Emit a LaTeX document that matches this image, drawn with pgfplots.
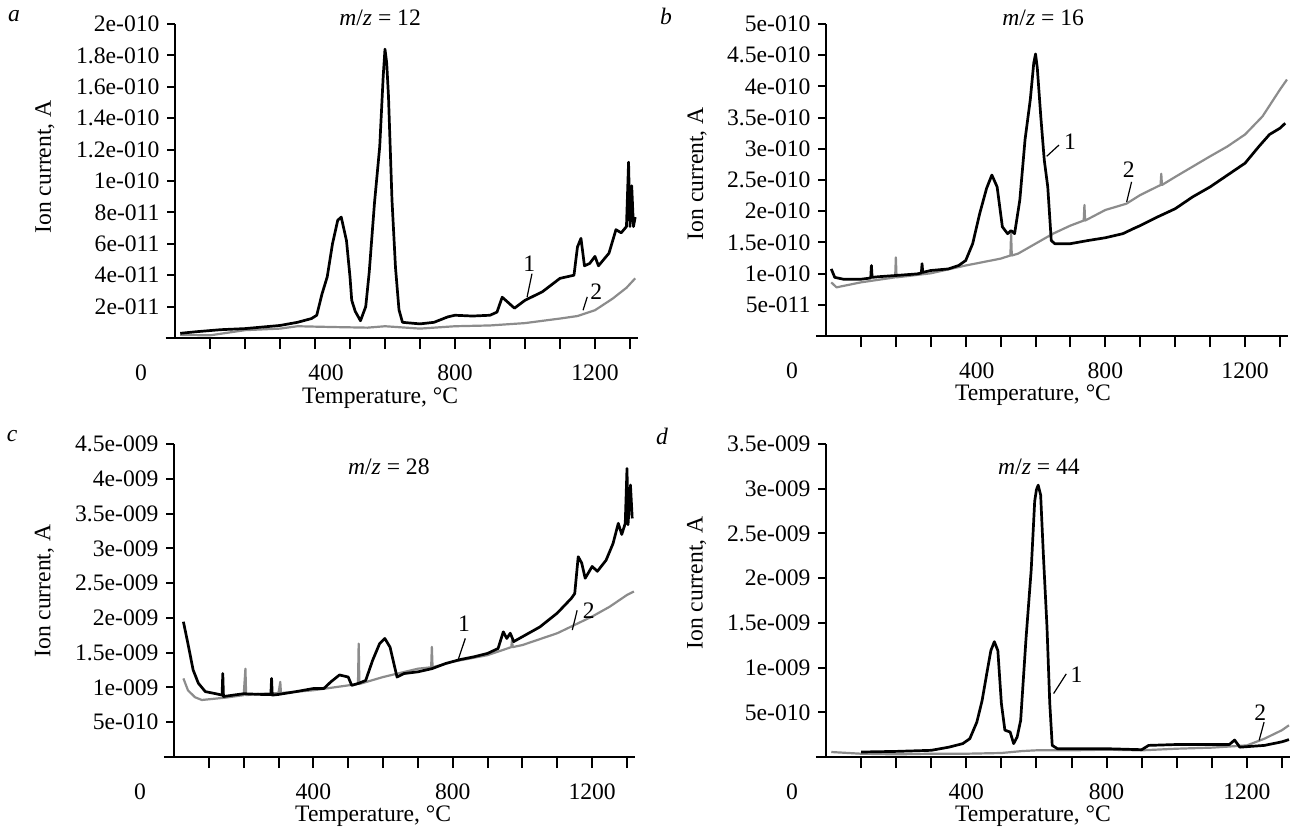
\documentclass[border=0pt]{standalone}
\usepackage{fontspec}
\setmainfont{Liberation Serif}
\usepackage{pgfplots}
\pgfplotsset{compat=1.18}
\definecolor{curvegray}{RGB}{140,140,140}
\newcommand\ff{\fontsize{11.8pt}{14pt}\selectfont}

\tikzset{lead/.style={black, line width=0.6pt}}
\pgfplotsset{
  ms/.style={
    scale only axis, axis lines*=left, clip=false,
    xmin=0, xmax=1323, ymin=0,
    tick align=outside,
    xtick={100,200,...,1300},
    axis line style={line width=1pt},
    every tick/.append style={line width=1pt, black},
    xtick style={/pgfplots/major tick length=5.5pt},
    ytick style={/pgfplots/major tick length=4pt},
    tick label style={font=\ff},
    every axis title shift=0pt,
    xlabel={Temperature, °C},
    ylabel={Ion current, A},
    extra x ticks={0}, extra x tick labels={0},
    extra x tick style={tick style={draw=none}, xticklabel style={xshift=-17pt}},
    xticklabel style={anchor=center, yshift=-13pt},
  },
  blk/.style={black, line width=1.35pt, line join=round},
  gry/.style={curvegray, line width=1.1pt, line join=round},
}

\begin{document}
\begin{tikzpicture}
\path[use as bounding box] (0,0) rectangle (646.5pt,-416pt);

\node[font=\ff\itshape] at (7pt,-8pt) {a};
\node[font=\ff\itshape] at (333pt,-8pt) {b};
\node[font=\ff\itshape] at (6pt,-218pt) {c};
\node[font=\ff\itshape] at (331pt,-218pt) {d};

% ---------------- a: m/z = 12 (y in 1e-11 A)
\begin{axis}[ms, at={(87.5pt,-169pt)}, anchor=south west,
  width=231.5pt, height=157pt, ymax=20,
  ytick={2,4,...,20},
  yticklabels={2e-011,4e-011,6e-011,8e-011,1e-010,1.2e-010,1.4e-010,1.6e-010,1.8e-010,2e-010},
  xticklabels={,,,{\hspace*{11pt}400},,,,800,,,,1200,},
  title={\textit{m}/\textit{z} = 12},
  title style={font=\ff, at={(axis description cs:0.443,1.019)}, anchor=center},
  xlabel style={font=\ff, at={(axis description cs:0.443,-0.19)}, anchor=center},
  ylabel style={font=\ff, at={(axis description cs:-0.281,0.545)}, anchor=center},
]
\addplot[gry] coordinates {
(15,0.2)(100,0.17)(200,0.5)(300,0.6)(350,0.75)(450,0.7)(550,0.66)(600,0.75)
(700,0.6)(800,0.75)(900,0.8)(1000,0.95)(1100,1.24)(1150,1.4)(1200,1.77)
(1250,2.5)(1290,3.2)(1315,3.8)};
\addplot[blk] coordinates {
(15,0.3)(60,0.4)(130,0.53)(200,0.6)(250,0.7)(300,0.8)(350,1.0)(390,1.24)
(405,1.45)(420,2.8)(435,3.9)(450,6.0)(465,7.5)(475,7.7)(490,6.2)(500,3.9)
(505,2.4)(515,1.7)(530,1.1)(545,2.0)(555,4.2)(570,8.6)(585,12.2)(595,16.7)
(600,18.4)(605,17.5)(610,15.4)(620,8.8)(630,4.5)(640,1.8)(650,1.0)(700,0.9)
(740,1.0)(780,1.35)(800,1.45)(850,1.4)(900,1.45)(920,1.65)(935,2.6)(950,2.3)
(970,1.9)(1000,2.4)(1050,2.95)(1100,3.8)(1140,4.0)(1150,5.8)(1160,6.35)
(1170,4.6)(1185,4.75)(1200,5.2)(1210,4.6)(1240,5.4)(1260,6.9)(1275,6.7)
(1290,7.1)(1296,11.2)(1300,7.1)(1305,9.7)(1310,7.1)(1315,7.7)};
\draw[line width=1pt] (axis cs:-27,0) -- (axis cs:0,0);
\draw[lead] (axis cs:1020,4.1) -- (axis cs:1006,2.6);
\node[font=\ff] at (axis cs:1012,4.75) {1};
\draw[lead] (axis cs:1178,2.62) -- (axis cs:1166,1.77);
\node[font=\ff] at (axis cs:1204,2.94) {2};
\end{axis}

% ---------------- b: m/z = 16 (y in 1e-11 A)
\begin{axis}[ms, at={(413pt,-168pt)}, anchor=south west,
  width=231pt, height=156pt, ymax=50,
  ytick={5,10,...,50},
  yticklabels={5e-011,1e-010,1.5e-010,2e-010,2.5e-010,3e-010,3.5e-010,4e-010,4.5e-010,5e-010},
  xticklabels={,,,{\hspace*{11pt}400},,,,800,,,,1200,},
  title={\textit{m}/\textit{z} = 16},
  title style={font=\ff, at={(axis description cs:0.47,1.019)}, anchor=center},
  xlabel style={font=\ff, at={(axis description cs:0.448,-0.19)}, anchor=center},
  ylabel style={font=\ff, at={(axis description cs:-0.279,0.52)}, anchor=center},
]
\addplot[gry] coordinates {
(15,8.6)(30,7.8)(100,8.6)(198,9.4)(200,12.6)(202,9.4)(300,10.05)(400,11.3)
(500,12.4)(528,12.9)(530,16.4)(532,12.9)(550,13.2)(600,14.8)(650,16.4)
(700,17.7)(738,18.5)(740,21)(742,18.5)(800,20.2)(860,21.2)(900,22.6)
(958,24.2)(960,26)(962,24.2)(1000,25.5)(1100,28.8)(1150,30.4)(1200,32.3)
(1250,35.2)(1300,39.5)(1320,41.1)};
\addplot[blk] coordinates {
(15,10.75)(25,9.4)(50,9.1)(100,9.1)(128,9.3)(130,11.3)(132,9.4)(150,9.5)
(200,9.7)(260,9.95)(273,10.1)(275,11.6)(277,10.2)(300,10.5)(350,10.75)
(380,11.3)(400,12.1)(420,14.8)(440,19.6)(460,23.7)(475,25.8)(490,23.9)
(505,17.5)(520,16.4)(530,16.9)(540,16.4)(555,21.8)(570,31.5)(585,37.9)
(595,43.8)(600,45.2)(605,43)(615,35.2)(625,28.2)(635,23.9)(645,15.3)
(655,14.8)(700,14.8)(750,15.3)(800,15.75)(850,16.4)(880,17.2)(900,17.7)
(950,19.1)(1000,20.4)(1050,22.3)(1100,23.9)(1150,25.8)(1200,27.7)
(1240,30.4)(1270,32.3)(1300,33.3)(1315,34.1)};
\draw[line width=1pt] (axis cs:-29,0) -- (axis cs:0,0);
\draw[lead] (axis cs:667,30.6) -- (axis cs:632,28.8);
\node[font=\ff] at (axis cs:699,31.2) {1};
\draw[lead] (axis cs:875,24.7) -- (axis cs:861,21.5);
\node[font=\ff] at (axis cs:867,26.6) {2};
\end{axis}

% ---------------- c: m/z = 28 (y in 1e-10 A)
\begin{axis}[ms, at={(87pt,-378.5pt)}, anchor=south west,
  width=230.5pt, height=156.5pt, ymax=45,
  ytick={5,10,...,45},
  yticklabels={5e-010,1e-009,1.5e-009,2e-009,2.5e-009,3e-009,3.5e-009,4e-009,4.5e-009},
  xticklabels={,,,400,,,,800,,,,1200,},
  title={\textit{m}/\textit{z} = 28},
  title style={font=\ff, at={(axis description cs:0.466,0.927)}, anchor=center},
  xlabel style={font=\ff, at={(axis description cs:0.432,-0.19)}, anchor=center},
  ylabel style={font=\ff, at={(axis description cs:-0.281,0.53)}, anchor=center},
]
\addplot[gry] coordinates {
(27,11.3)(40,9.6)(60,8.6)(80,8.2)(100,8.3)(150,8.55)(200,8.9)(205,12.7)
(207,8.9)(250,9.1)(300,9.2)(305,10.8)(307,9.2)(400,9.6)(500,10.3)(528,10.5)
(530,16.3)(532,10.5)(600,11.5)(700,12.7)(738,12.9)(740,15.85)(742,12.9)
(800,13.7)(900,14.65)(968,15.8)(970,16.8)(972,15.8)(1000,16.1)(1100,17.8)
(1200,20.2)(1250,21.6)(1300,23.3)(1320,23.8)};
\addplot[blk] coordinates {
(27,19.45)(40,16.3)(55,12.5)(70,10.6)(90,9.4)(120,9.1)(138,8.9)(140,12)
(142,8.7)(170,8.9)(200,9.1)(250,9.0)(278,9.0)(280,11.3)(282,8.9)(300,9.0)
(350,9.4)(400,9.85)(430,9.85)(450,10.8)(475,11.8)(500,11.5)(510,10.3)
(530,10.6)(550,11.0)(570,13.9)(590,16.3)(605,17.05)(620,15.8)(640,11.5)
(660,12.0)(700,12.25)(740,12.7)(780,13.45)(820,14.0)(860,14.4)(900,14.9)
(930,15.6)(945,18.0)(955,17.05)(965,17.8)(975,16.6)(1000,17.3)(1050,18.7)
(1100,20.7)(1140,22.8)(1150,23.5)(1160,28.8)(1170,27.9)(1180,25.7)
(1200,27.4)(1215,26.7)(1240,28.3)(1260,30.7)(1275,33.6)(1285,32)
(1295,33.6)(1300,41.5)(1303,33.4)(1310,39.1)(1315,34.3)};
\draw[line width=1pt] (axis cs:-29,0) -- (axis cs:0,0);
\draw[lead] (axis cs:836,17.05) -- (axis cs:815,13.9);
\node[font=\ff] at (axis cs:832,19.2) {1};
\draw[lead] (axis cs:1157,21.1) -- (axis cs:1143,18.25);
\node[font=\ff] at (axis cs:1190,21.1) {2};
\end{axis}

% ---------------- d: m/z = 44 (y in 1e-10 A)
\begin{axis}[ms, at={(413pt,-378.5pt)}, anchor=south west,
  width=232pt, height=156.5pt, ymax=35,
  ytick={5,10,...,35},
  yticklabels={5e-010,1e-009,1.5e-009,2e-009,2.5e-009,3e-009,3.5e-009},
  xticklabels={,,,400,,,,800,,,,1200,},
  title={\textit{m}/\textit{z} = 44},
  title style={font=\ff, at={(axis description cs:0.459,0.927)}, anchor=center},
  xlabel style={font=\ff, at={(axis description cs:0.446,-0.19)}, anchor=center},
  ylabel style={font=\ff, at={(axis description cs:-0.279,0.556)}, anchor=center},
]
\addplot[gry] coordinates {
(15,0.56)(100,0.37)(200,0.3)(300,0.37)(400,0.37)(500,0.45)(560,0.67)
(600,0.75)(700,0.75)(800,0.82)(900,0.75)(1000,0.93)(1100,1.05)(1200,1.3)
(1250,2.05)(1300,3.0)(1320,3.55)};
\addplot[blk] coordinates {
(100,0.56)(200,0.63)(300,0.75)(350,1.1)(390,1.5)(410,2.05)(430,3.9)
(445,6.3)(460,9.7)(470,11.9)(480,12.9)(490,11.9)(500,6.0)(510,3.0)
(525,2.8)(535,1.5)(545,2.24)(555,4.1)(570,13.1)(585,20.9)(595,28.6)
(600,29.9)(605,30.4)(612,29.3)(620,22.4)(630,14.6)(638,6.0)(645,1.3)
(660,0.93)(700,0.93)(800,0.93)(900,0.82)(920,1.3)(1000,1.4)(1100,1.4)
(1150,1.4)(1165,1.9)(1180,1.1)(1250,1.3)(1300,1.7)(1320,1.95)};
\draw[line width=1pt] (axis cs:-29,0) -- (axis cs:0,0);
\draw[lead] (axis cs:685,9.3) -- (axis cs:649,7.1);
\node[font=\ff] at (axis cs:714,9.15) {1};
\draw[lead] (axis cs:1249,3.9) -- (axis cs:1235,1.87);
\node[font=\ff] at (axis cs:1238,5.0) {2};
\end{axis}
\end{tikzpicture}
\end{document}
